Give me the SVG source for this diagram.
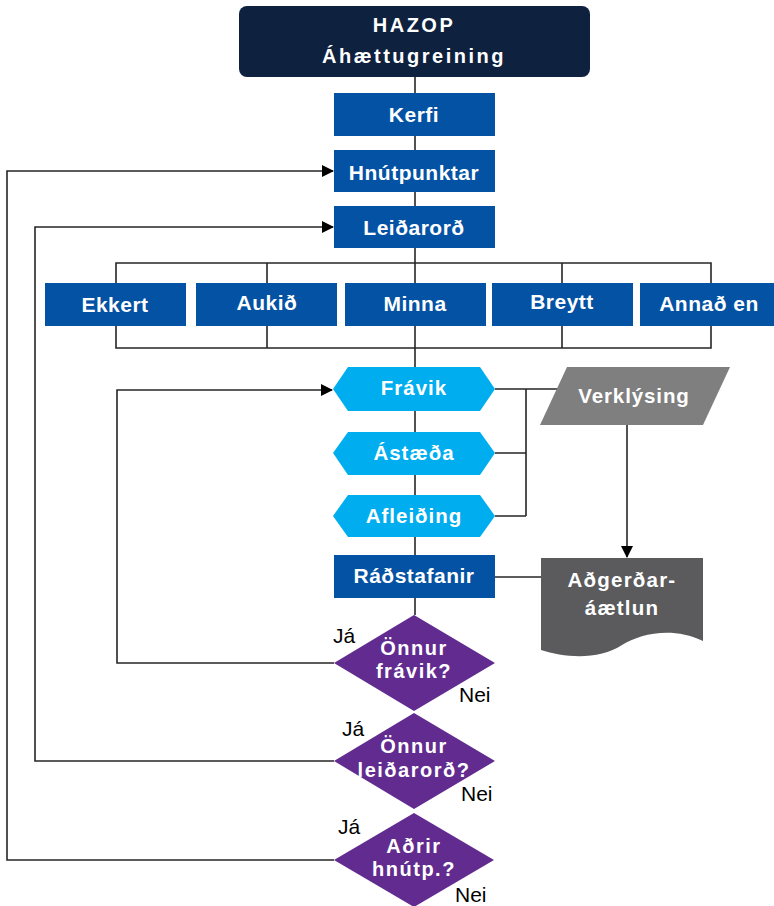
<svg xmlns="http://www.w3.org/2000/svg" width="774" height="906" viewBox="0 0 774 906">
<style>
.bg{fill:#ffffff}
.ln{fill:none;stroke:#262626;stroke-width:1.6}
.blue{fill:#0452a3}
.hex{fill:#00adef}
.dia{fill:#612b8f}
.t{font-family:"Liberation Sans",Arial,sans-serif;font-weight:bold;fill:#ffffff;text-anchor:middle}
.b{font-size:21px;letter-spacing:0.5px}
.h{font-size:20.5px;letter-spacing:1px}
.d{font-size:20px;letter-spacing:1.5px}
.k{font-family:"Liberation Sans",Arial,sans-serif;font-size:21px;fill:#000000}
</style>
<defs>
<marker id="ah" markerWidth="12" markerHeight="12" refX="11" refY="6" orient="auto" markerUnits="userSpaceOnUse">
<path d="M0,0 L12,6 L0,12 Z" fill="#000000"/>
</marker>
</defs>
<rect class="bg" width="774" height="906"/>
<g id="connectors">
<path class="ln" d="M415,77 V615"/>
<path class="ln" d="M116,283 V263 H711 V283 M267,263 V283 M562,263 V283"/>
<path class="ln" d="M116,326 V348 H711 V326 M267,326 V348 M562,326 V348"/>
<path class="ln" d="M495,389 H567 M526,389 V516 M495,453 H526 M495,516 H526"/>
<path class="ln" d="M627,425 V557" marker-end="url(#ah)"/>
<path class="ln" d="M495,577 H541"/>
<path class="ln" d="M334,663 H117 V390 H332" marker-end="url(#ah)"/>
<path class="ln" d="M334,761 H35 V227 H333" marker-end="url(#ah)"/>
<path class="ln" d="M334,860 H7 V171 H333" marker-end="url(#ah)"/>
</g>
<g id="hazop">
<rect x="239" y="6" width="351" height="71" rx="8" fill="#0e213f"/>
<text class="t" x="414" y="32" font-size="20" letter-spacing="2.5">HAZOP</text>
<text class="t" x="414" y="63" font-size="20" letter-spacing="2.5">Áhættugreining</text>
</g>
<g id="kerfi"><rect class="blue" x="334" y="93" width="161" height="43"/><text class="t b" x="414" y="122">Kerfi</text></g>
<g id="hnutpunktar"><rect class="blue" x="334" y="150" width="161" height="42"/><text class="t b" x="414" y="180">Hnútpunktar</text></g>
<g id="leidarord"><rect class="blue" x="334" y="206" width="161" height="42"/><text class="t b" x="414" y="235">Leiðarorð</text></g>
<g id="ekkert"><rect class="blue" x="45" y="283" width="141" height="43"/><text class="t b" x="115" y="312">Ekkert</text></g>
<g id="aukid"><rect class="blue" x="196" y="283" width="141" height="43"/><text class="t b" x="267" y="310">Aukið</text></g>
<g id="minna"><rect class="blue" x="345" y="283" width="141" height="43"/><text class="t b" x="415" y="311">Minna</text></g>
<g id="breytt"><rect class="blue" x="492" y="283" width="141" height="43"/><text class="t b" x="562" y="309">Breytt</text></g>
<g id="annad"><rect class="blue" x="640" y="283" width="140" height="43"/><text class="t b" x="709" y="311">Annað en</text></g>
<g id="fravik"><polygon class="hex" points="333,389 348,367 480,367 495,389 480,411 348,411"/><text class="t h" x="414" y="395">Frávik</text></g>
<g id="astaeda"><polygon class="hex" points="333,453 348,432 480,432 495,453 480,475 348,475"/><text class="t h" x="414" y="460">Ástæða</text></g>
<g id="afleiding"><polygon class="hex" points="333,516 348,495 480,495 495,516 480,537 348,537"/><text class="t h" x="414" y="523">Afleiðing</text></g>
<g id="radstafanir"><rect class="blue" x="334" y="555" width="161" height="43"/><text class="t b" x="414" y="583">Ráðstafanir</text></g>
<g id="verklysing"><polygon points="567,367 730,367 703,425 540,425" fill="#7f7f7f"/><text class="t" x="634" y="403" font-size="20.5" letter-spacing="0.9">Verklýsing</text></g>
<g id="adgerdaraaetlun"><path d="M541,558 H703 V641 C672,626 640,634 622,645 C600,660 565,658 541,650 Z" fill="#5b5b5d"/><text class="t" x="622" y="587" font-size="20.5" letter-spacing="1.2">Aðgerðar-</text><text class="t" x="622" y="615" font-size="20.5" letter-spacing="1.2">áætlun</text></g>
<g id="onnur-fravik"><polygon class="dia" points="414,615 495,663 414,711 334,663"/><text class="t d" x="414" y="655">Önnur</text><text class="t d" x="414" y="678">frávik?</text><text class="k" x="333" y="643">Já</text><text class="k" x="459" y="702">Nei</text></g>
<g id="onnur-leidarord"><polygon class="dia" points="414,713 495,761 414,809 334,761"/><text class="t d" x="414" y="753">Önnur</text><text class="t d" x="414" y="777">leiðarorð?</text><text class="k" x="342" y="736">Já</text><text class="k" x="461" y="801">Nei</text></g>
<g id="adrir-hnutp"><polygon class="dia" points="414,813 494,860 414,907 334,860"/><text class="t d" x="414" y="853">Aðrir</text><text class="t d" x="414" y="876">hnútp.?</text><text class="k" x="338" y="834">Já</text><text class="k" x="455" y="902">Nei</text></g>
</svg>
